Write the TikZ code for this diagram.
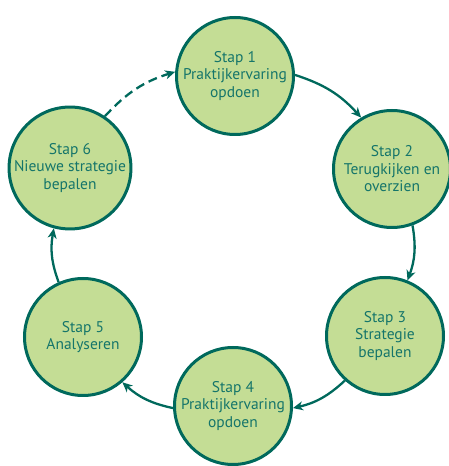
\documentclass[tikz,border=0pt]{standalone}
\usepackage{fontspec}
\setmainfont{PT Sans}
\usepackage{tikz}
\usetikzlibrary{arrows.meta}

\definecolor{stapfill}{HTML}{C4DD95}
\definecolor{stapline}{HTML}{00695C}
\definecolor{staptext}{HTML}{15756A}

\begin{document}
\begin{tikzpicture}[x=1pt, y=1pt,
        stap/.style={circle, draw=stapline, fill=stapfill, line width=3pt, minimum size=117pt, inner sep=0pt,
                     text=staptext, align=center, font=\fontsize{15.5}{17.5}\selectfont},
        flow/.style={draw=stapline, line width=2.3pt, -{Stealth[length=10pt, width=9pt, inset=3pt]}}
      ]
        \useasboundingbox (0,0) rectangle (448,466);

        \node[stap]  (s1)  at(235, 390)  {Stap 1\\Praktijkervaring\\opdoen};
        \node[stap]  (s2)  at(392, 297)  {Stap 2\\Terugkijken en\\overzien};
        \node[stap]  (s3)  at(385, 130)  {Stap 3\\Strategie\\bepalen};
        \node[stap]  (s4)  at(233, 60)   {Stap 4\\Praktijkervaring\\opdoen};
        \node[stap]  (s5)  at(83, 129)   {Stap 5\\Analyseren};
        \node[stap]  (s6)  at(70, 298)   {Stap 6\\Nieuwe strategie\\bepalen};

        \draw[flow]  (s1.1)   to[bend left=15]  (s2.121);
        \draw[flow]  (s2.-70) to[bend left=15]  (s3.68);
        \draw[flow]  (s3.228) to[bend left=15]  (s4.-2);
        \draw[flow]  (s4.182) to[bend left=15]  (s5.-49);
        \draw[flow]  (s5.114) to[bend left=15]  (s6.255);
        \draw[flow, dash pattern=on 9pt off 5pt]  (s6.56) to[bend left=15]  (s1.176);
      \end{tikzpicture}
\end{document}
